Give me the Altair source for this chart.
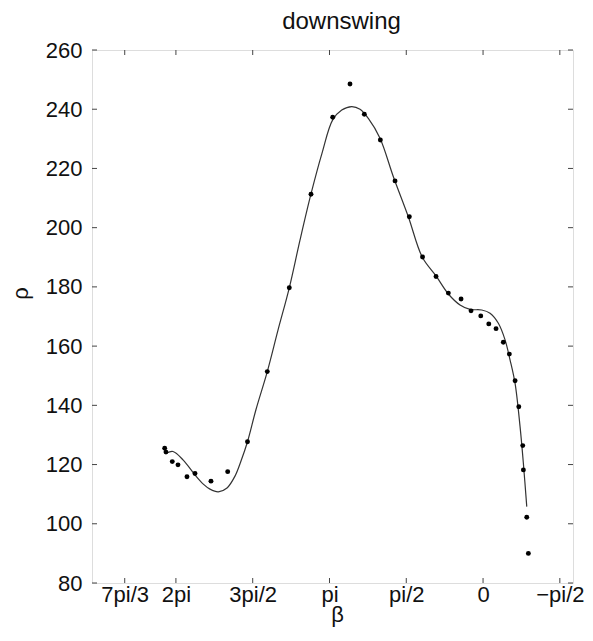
import math
import altair as alt
import pandas as pd

PI = math.pi
FONT = "Liberation Sans"

# observed points (beta in radians, rho)
beta_obs = [6.513, 6.487, 6.358, 6.241, 6.057, 5.893, 5.566, 5.224, 4.819, 4.414,
            3.964, 3.520, 3.076, 2.722, 2.429, 2.101, 1.801, 1.508, 1.238, 0.962,
            0.710, 0.450, 0.246, 0.047, -0.117, -0.266, -0.415, -0.538, -0.655,
            -0.731, -0.812, -0.825, -0.894, -0.927]
rho_obs = [125.5, 124.2, 121.0, 119.9, 115.9, 117.0, 114.4, 117.6, 127.7, 151.4,
           179.7, 211.3, 237.3, 248.5, 238.3, 229.6, 215.8, 203.7, 190.1, 183.5,
           177.9, 175.9, 171.9, 170.2, 167.5, 165.9, 161.3, 157.3, 148.3,
           139.5, 126.4, 118.2, 102.2, 90.0]

# fitted curve
beta_fit = [6.472, 6.343, 6.133, 5.893, 5.723, 5.586, 5.416, 5.238, 5.075, 4.952,
            4.819, 4.645, 4.414, 4.195, 3.964, 3.745, 3.520, 3.294, 3.076, 2.891,
            2.687, 2.517, 2.347, 2.108, 1.835, 1.529, 1.242, 0.962, 0.710, 0.471,
            0.266, 0.027, -0.143, -0.313, -0.450, -0.553, -0.655, -0.757, -0.825, -0.894]
rho_fit = [123.9, 124.4, 121.5, 116.5, 113.4, 111.7, 110.8, 112.1, 116.1, 121.2,
           127.7, 138.6, 151.4, 165.4, 179.7, 195.8, 211.4, 225.2, 236.4, 239.7,
           240.9, 240.0, 236.9, 230.2, 217.2, 203.7, 190.0, 183.7, 177.6, 173.9,
           172.4, 172.2, 171.1, 167.7, 162.1, 155.3, 147.4, 132.8, 120.4, 105.8]

x_tick_values = [7 * PI / 3, 2 * PI, 3 * PI / 2, PI, PI / 2, 0.0, -PI / 2]
x_tick_labels = ["7pi/3", "2pi", "3pi/2", "pi", "pi/2", "0", "\u2212pi/2"]
y_tick_values = [80, 100, 120, 140, 160, 180, 200, 220, 240, 260]

obs = pd.DataFrame({"beta": beta_obs, "rho": rho_obs})
fit = pd.DataFrame({"beta": beta_fit, "rho": rho_fit})
xt = pd.DataFrame({"beta": x_tick_values})
yt = pd.DataFrame({"rho": y_tick_values})

expr = ""
for v, lab in zip(x_tick_values, x_tick_labels):
    expr += f"abs(datum.value - ({v:.6f})) < 0.001 ? '{lab}' : "
expr += "''"

W, H = 481, 533
TL = 5

xscale = alt.Scale(domain=[-1.84, 8.0], reverse=True, nice=False, zero=False)
yscale = alt.Scale(domain=[80, 260], nice=False, zero=False)

xaxis = alt.Axis(values=x_tick_values, labelExpr=expr, ticks=False, tickSize=0,
                 domain=False, grid=False, labelPadding=1, labelFontSize=22,
                 labelFont=FONT, labelColor="#111", labelFlush=False, labelOverlap=False,
                 title="β", titleFont=FONT, titleFontSize=22, titleFontWeight="normal",
                 titleColor="#111", titleX=245, titleY=31, titleAlign="center",
                 titleBaseline="middle")
yaxis = alt.Axis(values=y_tick_values, ticks=False, tickSize=0, domain=False, grid=False,
                 labelPadding=10, labelFontSize=22, labelFont=FONT, labelColor="#111",
                 title="ρ", titleFont=FONT, titleFontSize=22, titleFontWeight="normal",
                 titleColor="#111", titleX=-72, titleY=243, titleAngle=-90,
                 titleAlign="center", titleBaseline="middle")

X = alt.X("beta:Q", scale=xscale, axis=xaxis)
Y = alt.Y("rho:Q", scale=yscale, axis=yaxis)

line = alt.Chart(fit).mark_line(color="#333", strokeWidth=1.2,
                                interpolate="catmull-rom").encode(x=X, y=Y)
pts = alt.Chart(obs).mark_circle(size=24, color="black", opacity=1).encode(x=X, y=Y)

xt_bottom = alt.Chart(xt).mark_rule(color="#444", strokeWidth=1).encode(
    x=X, y=alt.value(H), y2=alt.value(H - TL))
xt_top = alt.Chart(xt).mark_rule(color="#444", strokeWidth=1).encode(
    x=X, y=alt.value(0), y2=alt.value(TL))
yt_left = alt.Chart(yt).mark_rule(color="#444", strokeWidth=1).encode(
    y=Y, x=alt.value(0), x2=alt.value(TL))
yt_right = alt.Chart(yt).mark_rule(color="#444", strokeWidth=1).encode(
    y=Y, x=alt.value(W), x2=alt.value(W - TL))

chart = alt.layer(xt_bottom, xt_top, yt_left, yt_right, line, pts).properties(
    width=W, height=H,
    title=alt.TitleParams("downswing", font=FONT, fontSize=24, fontWeight="normal",
                          color="#111", anchor="middle", dx=9, offset=5),
    padding={"left": 84, "top": 42, "right": 12, "bottom": 50},
    autosize=alt.AutoSizeParams(type="none"),
).configure_view(stroke="#333", strokeWidth=1).configure(background="white")

chart.save("out.html", embed_options={"renderer": "svg", "actions": False})
